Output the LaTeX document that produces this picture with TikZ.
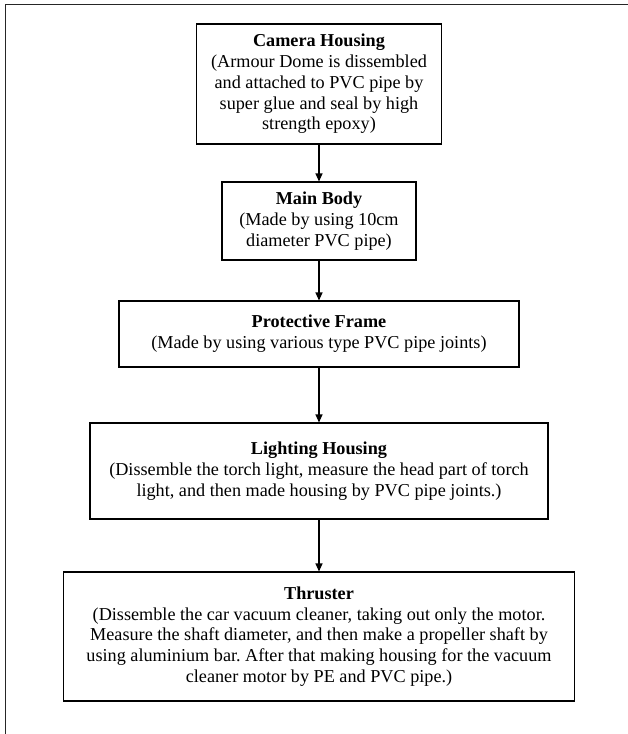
\documentclass[tikz,border=0pt]{standalone}
\usepackage{fontspec}
\setmainfont{Liberation Serif}
\frenchspacing
\usetikzlibrary{arrows.meta}

\tikzset{
  stagebox/.style={draw, line width=1.1pt, align=center, inner sep=0pt,
    font=\fontsize{18.2}{20.8}\selectfont},
  flow/.style={-{Triangle[length=8pt,width=7pt]}, line width=1.2pt}
}

\begin{document}
\begin{tikzpicture}[x=1pt,y=-1pt]
\useasboundingbox (0,0) rectangle (628,734);
% Outer frame
\draw[line width=1.5pt, black!85] (5.5,734) -- (5.5,4.5) -- (628,4.5);

% Stages
\node[stagebox, minimum width=245pt, minimum height=120pt] (cam) at (319,84)
  {\textbf{Camera Housing}\\(Armour Dome is dissembled\\and attached to PVC pipe by\\super glue and seal by high\\strength epoxy)};
\node[stagebox, minimum width=194pt, minimum height=78pt] (body) at (319,221)
  {\textbf{Main Body}\\(Made by using 10cm\\diameter PVC pipe)};
\node[stagebox, minimum width=400pt, minimum height=66pt] (frame) at (319,334)
  {\textbf{Protective Frame}\\(Made by using various type PVC pipe joints)};
\node[stagebox, minimum width=458pt, minimum height=96pt] (light) at (319,471)
  {\textbf{Lighting Housing}\\(Dissemble the torch light, measure the head part of torch\\light, and then made housing by PVC pipe joints.)};
\node[stagebox, minimum width=511pt, minimum height=129pt] (thrust) at (319,636.5)
  {\textbf{Thruster}\\(Dissemble the car vacuum cleaner, taking out only the motor.\\Measure the shaft diameter, and then make a propeller shaft by\\using aluminium bar. After that making housing for the vacuum\\cleaner motor by PE and PVC pipe.)};

% Arrows
\draw[flow] (cam) -- (body);
\draw[flow] (body) -- (frame);
\draw[flow] (frame) -- (light);
\draw[flow] (light) -- (thrust);
\end{tikzpicture}
\end{document}
